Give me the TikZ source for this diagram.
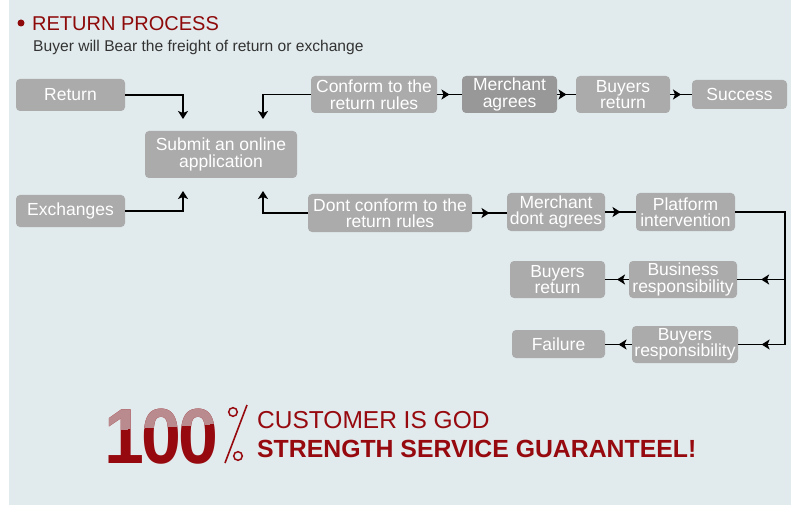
\documentclass[tikz,border=0pt]{standalone}
\usepackage{fontspec}
\setmainfont{Liberation Sans}
\usetikzlibrary{arrows.meta,decorations.markings}
\definecolor{bgcol}{HTML}{E1EAEC}
\definecolor{boxgray}{HTML}{ABABAB}
\definecolor{boxdark}{HTML}{989898}
\definecolor{titlered}{HTML}{8E0A0A}
\definecolor{subgray}{HTML}{333333}
\definecolor{reddark}{HTML}{960A0F}
\definecolor{redlight}{HTML}{B98A8E}
\newcommand\bxfont{\fontsize{17.5}{16.5}\selectfont}
\newcommand\hundredtxt{\scalebox{0.92}[1.0]{1\kern-3pt0\kern-3pt0}}
\tikzset{
  box/.style={rounded corners=4pt, fill=boxgray, text=white, font=\bxfont,
    align=center, inner sep=0pt},
  conn/.style={line width=1.8pt, black},
  endarr/.style={conn, -{Stealth[length=8pt,width=10pt,inset=2pt]}},
  midarr/.style={conn, decoration={markings, mark=at position 0.5 with
    {\arrow{Stealth[length=8pt,width=10pt,inset=2pt]}}}, postaction=decorate},
}
\begin{document}
\begin{tikzpicture}[x=1pt,y=-1pt]
\useasboundingbox (0,0) rectangle (800,505);
\fill[bgcol] (9,0) rectangle (791,505);

% title
\fill[titlered] (21,23) circle (3.5);
\node[anchor=base west, inner sep=0, text=titlered, font=\fontsize{20}{22}\selectfont] (title) at (32,30.5) {RETURN PROCESS};
\node[anchor=base west, inner sep=0, text=subgray, font=\fontsize{15.6}{17}\selectfont] (sub) at (33,52) {Buyer will Bear the freight of return or exchange};

% boxes
\node[box, minimum width=109, minimum height=32] (ret) at (70.5,95) {Return};
\node[box, minimum width=109, minimum height=32] (exch) at (70.5,211) {Exchanges};
\node[box, minimum width=152, minimum height=47] (subm) at (221,154.5) {Submit an online\\application};
\node[box, minimum width=126, minimum height=37] (conf) at (374,94.5) {Conform to the\\return rules};
\node[box, fill=boxdark, minimum width=95, minimum height=37] (magr) at (509.5,94.5) {Merchant\\agrees};
\node[box, minimum width=94, minimum height=37] (bret) at (623,94.5) {Buyers\\return};
\node[box, minimum width=95, minimum height=29] (succ) at (739.5,94.5) {Success};
\node[box, minimum width=164, minimum height=38] (dconf) at (390,213) {Dont conform to the\\return rules};
\node[box, minimum width=98, minimum height=38] (mdis) at (556,212) {Merchant\\dont agrees};
\node[box, minimum width=99, minimum height=38] (plat) at (685.5,212) {Platform\\intervention};
\node[box, minimum width=108, minimum height=37] (bus) at (683,279.5) {Business\\responsibility};
\node[box, minimum width=95, minimum height=37] (bret2) at (557.5,279.5) {Buyers\\return};
\node[box, minimum width=106, minimum height=37] (bresp) at (685,344.5) {Buyers\\responsibility};
\node[box, minimum width=93, minimum height=28] (fail) at (558.5,344) {Failure};

% coordinates
\coordinate (j1) at (183,119);
\coordinate (j2) at (263,119);
\coordinate (j3) at (183,191);
\coordinate (j4) at (263,191);
\coordinate (c2) at (785,279.5);
\coordinate (c3) at (785,344.5);

% connectors
\draw[endarr] (ret.east) -| (j1);
\draw[endarr] (conf.west) -| (j2);
\draw[endarr] (exch.east) -| (j3);
\draw[endarr] (dconf.west) -| (j4);
\draw[midarr] (conf) -- (magr);
\draw[midarr] (magr) -- (bret);
\draw[midarr] (bret) -- (succ);
\draw[midarr] (dconf.east) -- (mdis.west |- dconf.east);
\draw[midarr] (mdis) -- (plat);
\draw[conn] (plat.east) -| (c3);
\draw[midarr] (c2) -- (bus.east);
\draw[midarr] (c3) -- (bresp.east);
\draw[midarr] (bus) -- (bret2);
\draw[midarr] (bresp.west) -- (fail.east |- bresp.west);

% 100% slogan
\node[anchor=base west, inner sep=0, text=reddark, font=\bfseries\fontsize{78}{80}\selectfont] (hundred) at (104,463) {\hundredtxt};
\begin{scope}
  \clip (95,395) -- (226,395) -- (226,423) -- (95,431) -- cycle;
  \node[anchor=base west, inner sep=0, text=redlight, font=\bfseries\fontsize{78}{80}\selectfont] (hundredlight) at (104,463) {\hundredtxt};
\end{scope}
\draw[reddark, line width=1.6pt] (225,463) -- (247,405);
\draw[reddark, line width=1.5pt] (233,412) circle (4.3);
\draw[reddark, line width=1.5pt] (238,456) circle (4.3);
\node[anchor=base west, inner sep=0, text=reddark, font=\fontsize{24.5}{26}\selectfont] (god) at (257,428) {CUSTOMER IS GOD};
\node[anchor=base west, inner sep=0, text=reddark, font=\bfseries\fontsize{24.8}{26}\selectfont] (guar) at (257,457) {STRENGTH SERVICE GUARANTEEL!};
\end{tikzpicture}
\end{document}
